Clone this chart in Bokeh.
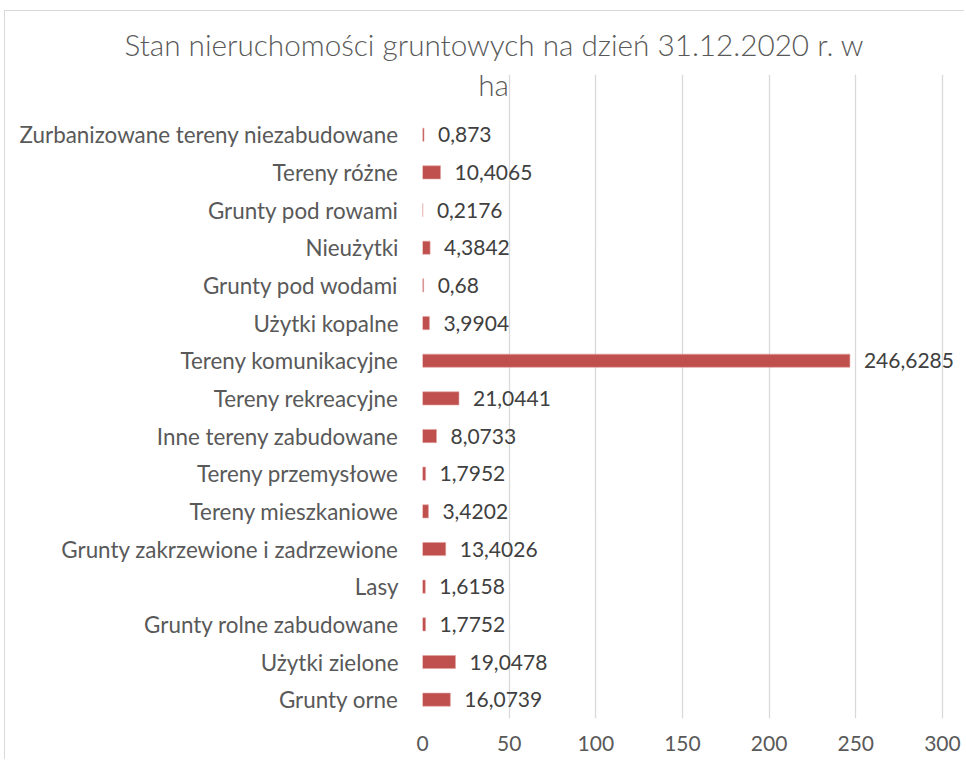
from bokeh.plotting import figure
from bokeh.models import ColumnDataSource, Range1d, FixedTicker, Label, LabelSet
from bokeh.core.properties import value
from bokeh.embed import file_html
from bokeh.resources import INLINE

# Data (bottom to top as displayed)
categories = [
    "Grunty orne",
    "Użytki zielone",
    "Grunty rolne zabudowane",
    "Lasy",
    "Grunty zakrzewione i zadrzewione",
    "Tereny mieszkaniowe",
    "Tereny przemysłowe",
    "Inne tereny zabudowane",
    "Tereny rekreacyjne",
    "Tereny komunikacyjne",
    "Użytki kopalne",
    "Grunty pod wodami",
    "Nieużytki",
    "Grunty pod rowami",
    "Tereny różne",
    "Zurbanizowane tereny niezabudowane",
]
values = [16.0739, 19.0478, 1.7752, 1.6158, 13.4026, 3.4202, 1.7952, 8.0733,
          21.0441, 246.6285, 3.9904, 0.68, 4.3842, 0.2176, 10.4065, 0.873]
value_labels = ["16,0739", "19,0478", "1,7752", "1,6158", "13,4026", "3,4202",
                "1,7952", "8,0733", "21,0441", "246,6285", "3,9904", "0,68",
                "4,3842", "0,2176", "10,4065", "0,873"]
x_ticks = [0, 50, 100, 150, 200, 250, 300]
title_lines = ["Stan nieruchomości gruntowych na dzień 31.12.2020 r. w", "ha"]

FONT = "Lato"
TITLE_FONT = "Lato Light, Lato"
BAR = "#C0504D"

pos = list(range(len(categories)))
src = ColumnDataSource(dict(y=pos, v=values, lab=value_labels, cat=categories))

p = figure(width=960, height=749, output_backend="svg", toolbar_location=None,
           x_range=Range1d(0, 311.0), y_range=Range1d(-0.5, len(categories) + 0.6),
           min_border_left=417, min_border_right=4, min_border_top=62,
           min_border_bottom=42, outline_line_color=None,
           styles={"margin-top": "10px", "margin-left": "4px",
                   "border-top": "1px solid #d9d9d9", "border-left": "1px solid #d9d9d9"})

p.hbar(y="y", right="v", left=0, height=0.35, source=src,
       fill_color=BAR, line_color="#e0a3a2", line_width=0.6)

labels = LabelSet(x="v", y="y", text="lab", source=src, x_offset=14,
                  text_baseline="middle", text_align="left",
                  text_font=value(FONT), text_font_size="21px", text_color="#404040")
p.add_layout(labels)

# axes
p.xaxis.ticker = FixedTicker(ticks=x_ticks)
p.xaxis.axis_line_color = None
p.xaxis.major_tick_line_color = None
p.xaxis.minor_tick_line_color = None
p.xaxis.major_tick_out = 0
p.xaxis.major_tick_in = 0
p.xaxis.major_label_standoff = 17
p.xaxis.major_label_text_font = FONT
p.xaxis.major_label_text_font_size = "21px"
p.xaxis.major_label_text_color = "#595959"

p.yaxis.ticker = FixedTicker(ticks=pos)
p.yaxis.major_label_overrides = {i: c for i, c in zip(pos, categories)}
p.yaxis.axis_line_color = None
p.yaxis.major_tick_line_color = None
p.yaxis.minor_tick_line_color = None
p.yaxis.major_tick_out = 0
p.yaxis.major_tick_in = 0
p.yaxis.major_label_standoff = 24
p.yaxis.major_label_text_font = FONT
p.yaxis.major_label_text_font_size = "22.4px"
p.yaxis.major_label_text_color = "#595959"

p.xgrid.ticker = FixedTicker(ticks=x_ticks)
p.xgrid.grid_line_color = "#d9d9d9"
p.xgrid.grid_line_width = 1.3
p.ygrid.grid_line_color = None

# title, first line
p.title.text = title_lines[0]
p.title.align = "left"
p.title.offset = -298
p.title.text_font = TITLE_FONT
p.title.text_font_size = "29.7px"
p.title.text_font_style = "normal"
p.title.text_color = "#595959"
p.title.standoff = 26

# title, second line (inside the plot area, as in the reference)
frame_h = 645
p.add_layout(Label(x=71, y=frame_h - 11, x_units="screen", y_units="screen",
                   text=title_lines[1], text_align="center", text_baseline="alphabetic",
                   text_font=TITLE_FONT, text_font_size="29.7px", text_color="#595959"))

open("out.html", "w").write(file_html(p, INLINE))
